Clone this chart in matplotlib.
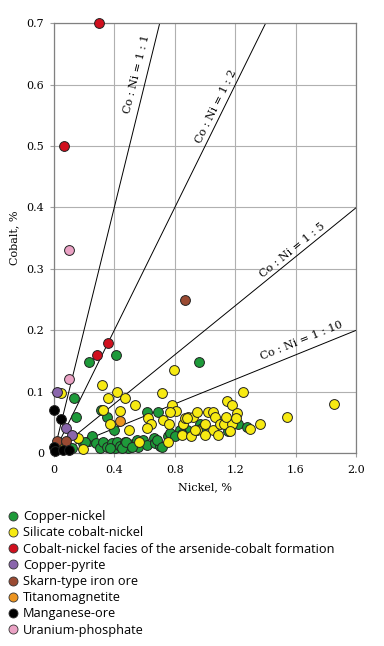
import math

import matplotlib

matplotlib.use("Agg")
import matplotlib.pyplot as plt
from matplotlib.lines import Line2D

# Copper-nickel
cu_ni_x = [0.96, 0.23, 0.41, 0.134, 0.147, 0.31, 0.35, 0.40, 0.614, 0.69, 0.88, 0.77,
           0.107, 0.195, 0.235, 0.25, 0.28, 0.305, 0.327, 0.35, 0.383, 0.405, 0.415,
           0.437, 0.47, 0.49, 0.525, 0.548, 0.56, 0.59, 0.614, 0.66, 0.67, 0.70, 0.757,
           0.77, 0.834, 0.845, 0.68, 0.713, 0.967, 1.154, 1.22, 1.275, 0.978, 0.118,
           0.206, 0.37, 0.45, 0.48, 0.515, 0.80]
cu_ni_y = [0.149, 0.149, 0.16, 0.09, 0.059, 0.07, 0.059, 0.038, 0.067, 0.067, 0.038, 0.03,
           0.008, 0.016, 0.02, 0.028, 0.016, 0.008, 0.018, 0.01, 0.016, 0.008, 0.018,
           0.011, 0.018, 0.008, 0.015, 0.021, 0.01, 0.021, 0.013, 0.024, 0.016, 0.011, 0.028,
           0.032, 0.037, 0.031, 0.021, 0.01, 0.048, 0.035, 0.048, 0.043, 0.04, 0.008,
           0.018, 0.008, 0.008, 0.018, 0.01, 0.028]

# Silicate cobalt-nickel
sil_x = [0.045, 0.32, 0.36, 0.42, 0.47, 0.537, 0.713, 0.797, 0.78, 0.81, 0.77, 0.327,
         0.44, 0.37, 0.50, 0.625, 0.64, 0.614, 0.724, 0.764, 0.757, 0.856, 0.845, 0.89,
         0.92, 0.945, 0.91, 0.945, 1.0, 1.02, 1.055, 1.066, 1.055, 1.0, 1.088, 1.10,
         1.125, 1.143, 1.18, 1.176, 1.165, 1.213, 1.205, 1.14, 1.30, 1.36, 1.25, 1.54,
         1.85, 0.867, 0.934, 0.563, 0.19, 0.16, 0.04, 0.88]
sil_y = [0.098, 0.11, 0.089, 0.099, 0.089, 0.078, 0.098, 0.135, 0.078, 0.069, 0.067, 0.07,
         0.069, 0.048, 0.037, 0.057, 0.048, 0.04, 0.053, 0.048, 0.018, 0.048, 0.029, 0.059,
         0.059, 0.067, 0.028, 0.037, 0.048, 0.067, 0.067, 0.059, 0.037, 0.029, 0.029, 0.048,
         0.048, 0.084, 0.078, 0.048, 0.035, 0.065, 0.057, 0.059, 0.039, 0.048, 0.099, 0.058,
         0.079, 0.057, 0.037, 0.018, 0.006, 0.024, 0.01, 0.057]

# Cobalt-nickel facies of the arsenide-cobalt formation
ars_x = [0.30, 0.07, 0.285, 0.36]
ars_y = [0.70, 0.50, 0.16, 0.18]

# Copper-pyrite
pyr_x = [0.02, 0.08, 0.12]
pyr_y = [0.10, 0.04, 0.03]

# Skarn-type iron ore
skarn_x = [0.02, 0.08, 0.87]
skarn_y = [0.02, 0.02, 0.25]

# Titanomagnetite
titan_x = [0.44]
titan_y = [0.052]

# Manganese-ore
mn_x = [0.0, 0.05, 0.0, 0.01, 0.06, 0.1]
mn_y = [0.07, 0.056, 0.01, 0.004, 0.005, 0.005]

# Uranium-phosphate
ur_x = [0.10, 0.10]
ur_y = [0.33, 0.12]

ratios = [1, 2, 5, 10]
ratio_labels = ["Co : Ni = 1 : 1", "Co : Ni = 1 : 2", "Co : Ni = 1 : 5", "Co : Ni = 1 : 10"]
label_pos = [(0.55, 0.617), (1.07, 0.564), (1.58, 0.330), (1.635, 0.183)]

groups = [
    ("Copper-nickel", cu_ni_x, cu_ni_y, "#1e9a3a"),
    ("Silicate cobalt-nickel", sil_x, sil_y, "#f7ea12"),
    ("Cobalt-nickel facies of the arsenide-cobalt formation", ars_x, ars_y, "#d0101e"),
    ("Copper-pyrite", pyr_x, pyr_y, "#8a66ac"),
    ("Skarn-type iron ore", skarn_x, skarn_y, "#9a4a32"),
    ("Titanomagnetite", titan_x, titan_y, "#ec9420"),
    ("Manganese-ore", mn_x, mn_y, "#000000"),
    ("Uranium-phosphate", ur_x, ur_y, "#eaa2c4"),
]

serif = "DejaVu Serif"

fig = plt.figure(figsize=(3.84, 6.46), dpi=100)
ax = fig.add_axes([0.140, 0.2988, 0.788, 0.665])

ax.set_xlim(0, 2.0)
ax.set_ylim(0, 0.7)
ax.set_xticks([0, 0.4, 0.8, 1.2, 1.6, 2.0])
ax.set_xticklabels(["0", "0.4", "0.8", "1.2", "1.6", "2.0"], family=serif, fontsize=8)
ax.set_yticks([0, 0.1, 0.2, 0.3, 0.4, 0.5, 0.6, 0.7])
ax.set_yticklabels(["0", "0.1", "0.2", "0.3", "0.4", "0.5", "0.6", "0.7"], family=serif, fontsize=8)
ax.grid(True, color="#b0b0b0", linewidth=0.8)
ax.set_axisbelow(True)
ax.tick_params(length=3, color="#a0a0a0")
ax.tick_params(axis="x", pad=6)
ax.tick_params(axis="y", pad=4)
for sp in ax.spines.values():
    sp.set_color("#808080")
    sp.set_linewidth(0.9)

# ratio lines from the origin
for k, lab, (lx, ly) in zip(ratios, ratio_labels, label_pos):
    x_end = min(2.0, 0.7 * k)
    ax.plot([0, x_end], [0, x_end / k], color="black", linewidth=0.7, zorder=2)
    p1 = ax.transData.transform((0, 0))
    p2 = ax.transData.transform((x_end, x_end / k))
    rot = math.degrees(math.atan2(p2[1] - p1[1], p2[0] - p1[0]))
    ax.text(lx, ly, lab, rotation=rot, rotation_mode="anchor", ha="center", va="center",
            family=serif, fontsize=8)

for i, (name, xs, ys, col) in enumerate(groups):
    ax.scatter(xs, ys, s=50, color=col, edgecolors="#222222", linewidths=0.7,
               zorder=3 + i, clip_on=False)

ax.set_xlabel("Nickel, %", family=serif, fontsize=8, labelpad=5)
ax.set_ylabel("Cobalt, %", family=serif, fontsize=8, labelpad=5)

handles = [Line2D([], [], marker="o", linestyle="none", markersize=6.5,
                  markerfacecolor=col, markeredgecolor="#333333", markeredgewidth=0.6)
           for _, _, _, col in groups]
fig.legend(handles, [g[0] for g in groups], loc="upper left",
           bbox_to_anchor=(0.0, 0.224), frameon=False, borderpad=0.2,
           handlelength=0.7, handletextpad=0.4, labelspacing=0.25,
           prop={"family": "Open Sans", "size": 9.2})

fig.savefig("out.png", dpi=100)
